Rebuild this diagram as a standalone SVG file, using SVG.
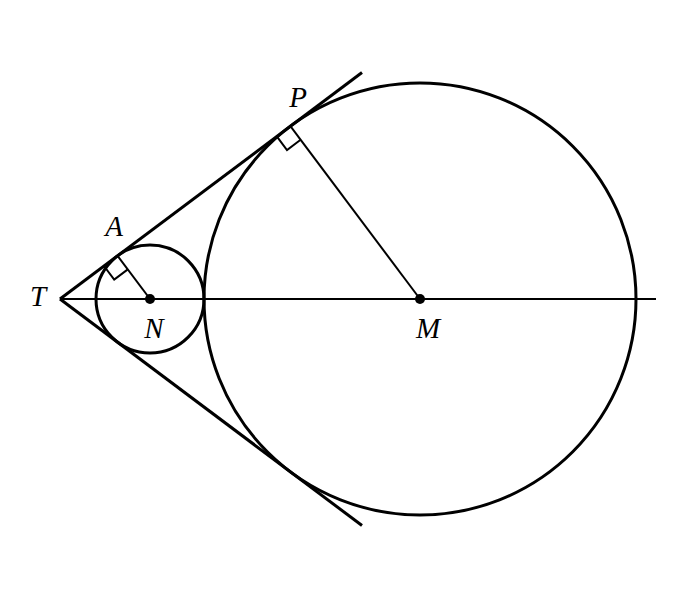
<svg xmlns="http://www.w3.org/2000/svg" width="696" height="600" viewBox="0 0 696 600">
<style>
.thick{fill:none;stroke:#000;stroke-width:3}
.thin{fill:none;stroke:#000;stroke-width:2}
.lbl{font-family:"Liberation Serif","DejaVu Serif",serif;font-style:italic;font-size:29px;text-anchor:middle;fill:#000}
</style>
<rect width="696" height="600" fill="#fff"/>
<g id="connectors">
<line class="thick" x1="60" y1="299" x2="362" y2="72.5"/>
<line class="thick" x1="60" y1="299" x2="362" y2="525.5"/>
<line class="thin" x1="60" y1="299" x2="656" y2="299"/>
<line class="thin" x1="117.6" y1="255.8" x2="150" y2="299"/>
<line class="thin" x1="290.4" y1="126.2" x2="420" y2="299"/>
<polyline class="thin" points="104,266 114.2,279.6 127.8,269.4"/>
<polyline class="thin" points="276.8,136.4 287,150 300.6,139.8"/>
</g>
<g id="circleN"><circle class="thick" cx="150" cy="299" r="54"/><circle cx="150" cy="299" r="5" fill="#000"/></g>
<g id="circleM"><circle class="thick" cx="420" cy="299" r="216"/><circle cx="420" cy="299" r="5" fill="#000"/></g>
<g id="labels">
<text class="lbl" x="38" y="306">T</text>
<text class="lbl" x="114" y="236">A</text>
<text class="lbl" x="298" y="107">P</text>
<text class="lbl" x="154" y="338">N</text>
<text class="lbl" x="428" y="338">M</text>
</g>
</svg>
